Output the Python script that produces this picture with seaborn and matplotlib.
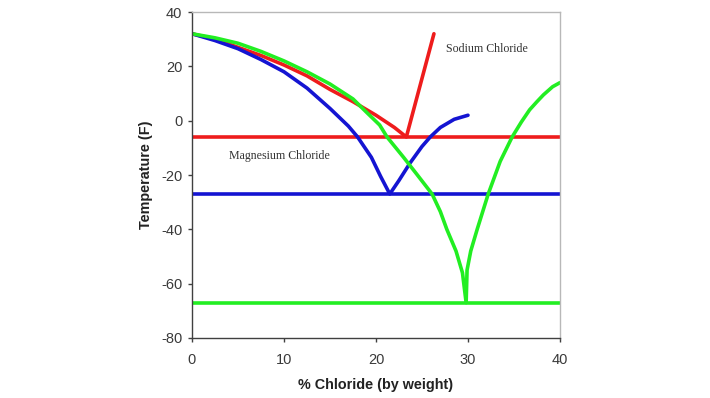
import numpy as np
import matplotlib
matplotlib.use("Agg")
import matplotlib.pyplot as plt
import seaborn as sns
import pandas as pd

sns.set_theme(style="white")
plt.rcParams['font.family'] = ['Liberation Sans', 'DejaVu Sans']
plt.rcParams['axes.unicode_minus'] = False

# freezing curves, % chloride by weight vs temperature (F)
nacl_x = [0, 2.5, 5, 7.5, 10, 12.5, 15, 17.5, 20, 22, 23.3, 24.8, 26.3]
nacl_y = [32, 30, 27, 24, 20.5, 16.5, 11.5, 7, 2, -2.5, -6, 13, 32]

mgcl_x = [0, 2.5, 5, 7.5, 10, 12.5, 15, 17, 18, 19.5, 20.5, 21.5, 22.5, 23.7, 25, 25.9, 27, 28.5, 30]
mgcl_y = [32, 29.5, 26.5, 22.5, 18, 12, 4.5, -2, -6, -13.5, -20.5, -27, -22, -15.6, -9.5, -6, -2.5, 0.5, 2]

cacl_x = [0, 2.5, 5, 7.5, 10, 12.5, 15, 17.5, 19, 20.4, 21.2, 23, 24.5, 26.1, 27, 27.7, 28.7, 29.4,
          29.8, 29.9, 30.3, 31, 32.2, 33.5, 34.8, 35.8, 36.7, 37.5, 38.2, 39.2, 40]
cacl_y = [32, 30.5, 28.5, 25.5, 22, 18, 13.5, 8, 3, -1.6, -6, -13.5, -20, -27, -33.5, -40, -48, -56,
          -67, -55, -48, -40, -27, -15, -6, -0.5, 4, 7, 9.5, 12.5, 14]

eutectic_y = [-6, -27, -67]
curve_colors = ["#ee1c1c", "#1414d2", "#22ee22"]

labels = ["Sodium Chloride", "Magnesium Chloride"]
label_x = [27.6, 4.0]
label_y = [26.5, -13]

fig = plt.figure(figsize=(7.1, 3.98), dpi=100)
ax = fig.add_axes([0.2704, 0.1508, 0.5183, 0.819])

curves = [(nacl_x, nacl_y), (mgcl_x, mgcl_y), (cacl_x, cacl_y)]
for (xs, ys), col, ey in zip(curves, curve_colors, eutectic_y):
    df = pd.DataFrame({"x": xs, "y": ys})
    sns.lineplot(data=df, x="x", y="y", sort=False, color=col, lw=2.6, ax=ax)
    ax.axhline(ey, color=col, lw=2.6)

for t, lx, ly in zip(labels, label_x, label_y):
    ax.text(lx, ly, t, family=["Liberation Serif"], fontsize=8.6, color="#333333",
            va="center", ha="left")

ax.set_xlim(0, 40)
ax.set_ylim(-80, 40)
ax.set_xticks([0, 10, 20, 30, 40])
ax.set_yticks([-80, -60, -40, -20, 0, 20, 40])
ax.tick_params(axis="both", direction="out", length=3, width=1, color="#404040",
               labelsize=10.5, labelcolor="#3a3a3a", bottom=True, left=True)
ax.tick_params(axis="y", pad=4)
ax.tick_params(axis="x", pad=8)
for s in ["left", "bottom"]:
    ax.spines[s].set_color("#404040")
    ax.spines[s].set_linewidth(1)
for s in ["top", "right"]:
    ax.spines[s].set_color("#b8b8b8")
    ax.spines[s].set_linewidth(1)

ax.set_xlabel("% Chloride (by weight)", fontsize=10.4, fontweight="bold", color="#222222", labelpad=8)
ax.set_ylabel("Temperature (F)", fontsize=10.4, fontweight="bold", color="#222222", labelpad=6)

plt.savefig("out.png", dpi=100)
